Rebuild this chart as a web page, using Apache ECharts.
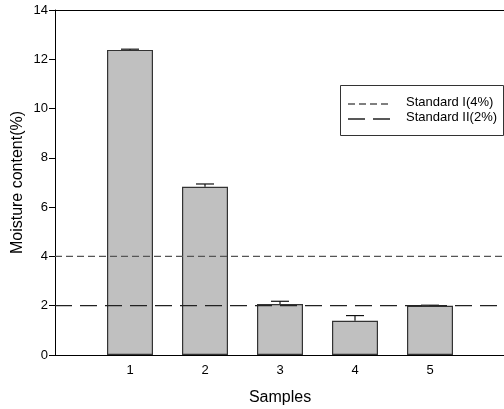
<!DOCTYPE html>
<html>
<head>
<meta charset="utf-8">
<script src="https://cdn.jsdelivr.net/npm/echarts@6/dist/echarts.min.js"></script>
<style>
  html, body { margin: 0; padding: 0; background: #fff; }
  #chart { width: 504px; height: 409px; }
</style>
</head>
<body>
<div id="chart"></div>
<script>
// samples on the x axis
var samples = [1, 2, 3, 4, 5];
// moisture content (%) per sample
var moisture = [12.38, 6.83, 2.07, 1.39, 2.00];
// upper end of the error bar
var errorTop = [12.41, 6.94, 2.18, 1.60, 2.02];
// reference standards
var standardNames = ['Standard I(4%)', 'Standard II(2%)'];
var standardValues = [4, 2];
var yTicks = [0, 2, 4, 6, 8, 10, 12, 14];

var chart = echarts.init(document.getElementById('chart'));
var font = 'Liberation Sans, Arial, sans-serif';

var barData = samples.map(function (s, i) { return [s, moisture[i]]; });
var errData = samples.map(function (s, i) { return [s, moisture[i], errorTop[i]]; });

var dashI = [7, 4], dashII = [17, 8];
var colI = '#555', colII = '#222';

var option = {
    animation: false,
    textStyle: { fontFamily: font },
    grid: { left: 55, right: -1, top: 10, bottom: 54, outerBoundsMode: 'none', containLabel: false },
    xAxis: [{
        type: 'value', min: 0, max: 6, interval: 1,
        name: 'Samples', nameLocation: 'middle', nameGap: 35,
        nameTextStyle: { fontSize: 16, color: '#000' },
        axisLine: { lineStyle: { color: '#000' } },
        axisTick: { show: false },
        splitLine: { show: false },
        axisLabel: {
            color: '#000', fontSize: 13, margin: 9,
            formatter: function (v) { return samples.indexOf(v) >= 0 ? String(v) : ''; }
        }
    }, {
        type: 'value', position: 'top', min: 0, max: 6,
        axisLine: { show: true, lineStyle: { color: '#000' } },
        axisTick: { show: false }, axisLabel: { show: false }, splitLine: { show: false }
    }],
    yAxis: {
        type: 'value', min: yTicks[0], max: yTicks[yTicks.length - 1], interval: 2,
        name: 'Moisture content(%)', nameLocation: 'middle', nameGap: 29,
        nameMoveOverlap: false,
        nameTextStyle: { fontSize: 16, color: '#000' },
        axisLine: { show: true, lineStyle: { color: '#000' } },
        axisTick: { show: true, inside: false, length: 6, lineStyle: { color: '#000' } },
        splitLine: { show: false },
        axisLabel: { color: '#000', fontSize: 13, margin: 7 }
    },
    graphic: [
        { type: 'rect', left: 340, top: 85, shape: { width: 163, height: 50 },
          style: { fill: '#fff', stroke: '#333', lineWidth: 1 }, z: 10 },
        { type: 'line', shape: { x1: 348, y1: 104, x2: 392, y2: 104 },
          style: { stroke: colI, lineWidth: 1.3, lineDash: dashI }, z: 11 },
        { type: 'line', shape: { x1: 348, y1: 119, x2: 392, y2: 119 },
          style: { stroke: colII, lineWidth: 1.3, lineDash: dashII }, z: 11 },
        { type: 'text', left: 406, top: 96, z: 11,
          style: { text: standardNames[0], font: '13px ' + font, fill: '#000' } },
        { type: 'text', left: 406, top: 111, z: 11,
          style: { text: standardNames[1], font: '13px ' + font, fill: '#000' } }
    ],
    series: [
        {
            type: 'bar', data: barData, barWidth: 46,
            itemStyle: { color: '#c0c0c0', borderColor: '#333', borderWidth: 1.2 },
            z: 2
        },
        {
            type: 'custom', data: errData, z: 3,
            renderItem: function (params, api) {
                var x = api.value(0);
                var p0 = api.coord([x, api.value(1)]);
                var p1 = api.coord([x, api.value(2)]);
                var style = { stroke: '#111', lineWidth: 1.2 };
                return {
                    type: 'group',
                    children: [
                        { type: 'line', shape: { x1: p0[0], y1: p0[1], x2: p1[0], y2: p1[1] }, style: style },
                        { type: 'line', shape: { x1: p1[0] - 9, y1: p1[1], x2: p1[0] + 9, y2: p1[1] }, style: style }
                    ]
                };
            }
        },
        {
            name: standardNames[0], type: 'line', symbol: 'none', z: 4,
            data: [[0, standardValues[0]], [6, standardValues[0]]],
            lineStyle: { color: colI, width: 1.3, type: dashI }
        },
        {
            name: standardNames[1], type: 'line', symbol: 'none', z: 4,
            data: [[0, standardValues[1]], [6, standardValues[1]]],
            lineStyle: { color: colII, width: 1.3, type: dashII }
        }
    ]
};
chart.setOption(option);
</script>
</body>
</html>
